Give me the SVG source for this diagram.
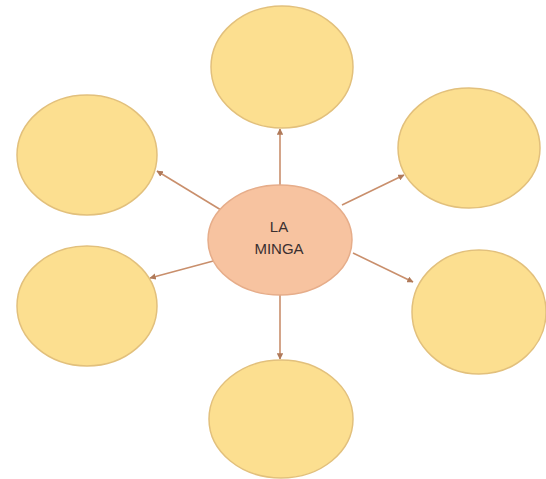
<svg xmlns="http://www.w3.org/2000/svg" width="546" height="479" viewBox="0 0 546 479">
<style>
.leaf{fill:#FCDF90;stroke:#E2C07C;stroke-width:1.5}
.hub{fill:#F7C3A0;stroke:#E6AD8A;stroke-width:1.5}
.conn{stroke:#C98F6C;stroke-width:1.6;fill:none;marker-end:url(#ah)}
.lbl{font-family:"Liberation Sans",Arial,sans-serif;font-size:15px;fill:#3a3030;text-anchor:middle}
</style>
<defs>
<marker id="ah" viewBox="0 0 10 10" refX="9" refY="5" markerWidth="4" markerHeight="4" orient="auto">
<path d="M0,0 L10,5 L0,10 z" fill="#B07A5A"/>
</marker>
</defs>
<rect width="546" height="479" fill="#ffffff"/>
<g id="connectors">
<line class="conn" x1="280" y1="185" x2="280" y2="129"/>
<line class="conn" x1="280" y1="295" x2="280" y2="359"/>
<line class="conn" x1="221" y1="210" x2="157" y2="171"/>
<line class="conn" x1="217" y1="260" x2="150" y2="278"/>
<line class="conn" x1="342" y1="205" x2="404" y2="175"/>
<line class="conn" x1="353" y1="253" x2="413" y2="282"/>
</g>
<g id="top"><ellipse class="leaf" cx="282" cy="67" rx="71" ry="61"/></g>
<g id="bottom"><ellipse class="leaf" cx="281" cy="419" rx="72" ry="59"/></g>
<g id="leftTop"><ellipse class="leaf" cx="87" cy="155" rx="70" ry="60"/></g>
<g id="leftBottom"><ellipse class="leaf" cx="87" cy="306" rx="70" ry="60"/></g>
<g id="rightTop"><ellipse class="leaf" cx="469" cy="148" rx="71" ry="60"/></g>
<g id="rightBottom"><ellipse class="leaf" cx="479" cy="312" rx="67" ry="62"/></g>
<g id="center">
<ellipse class="hub" cx="280" cy="240" rx="72" ry="55"/>
<text class="lbl" x="279" y="232">LA</text>
<text class="lbl" x="279" y="254">MINGA</text>
</g>
</svg>
